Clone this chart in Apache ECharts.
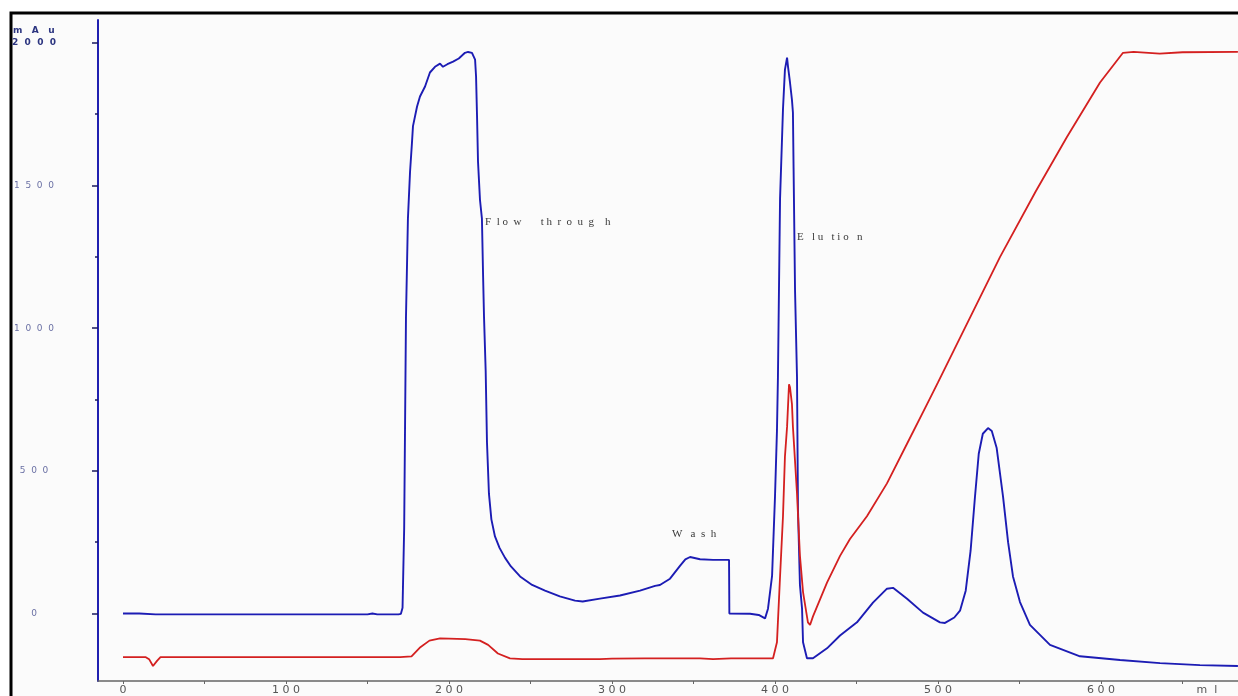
<!DOCTYPE html>
<html>
<head>
<meta charset="utf-8">
<script src="https://cdn.jsdelivr.net/npm/echarts@6/dist/echarts.min.js"></script>
<style>
html,body{margin:0;padding:0;background:#ffffff;}
#chart{width:1238px;height:696px;}
</style>
</head>
<body>
<div id="chart"></div>
<script>
// ---- data (volume in ml, absorbance in mAu) ----
const blueData = [
 [0,0],[10,0],[20,-3],[150,-3],[153,0],[156,-3],[169,-3],[170.5,-1],[171.5,20],[172.5,300],
 [173.6,1036],[174.8,1384],[176.1,1548],[177.3,1652],[177.9,1708],[180.4,1777],[182.2,1812],
 [185.3,1847],[188.3,1896],[191.4,1916],[194.5,1927],[195.7,1934],[196.3,1916],[199,1925],
 [202.5,1934],[206,1945],[209.8,1965],[211.7,1968],[214.1,1965],[216.0,1941],[216.6,1882],
 [217.2,1743],[217.8,1583],[219,1450],[220.2,1384],[220.9,1186],[221.5,1036],[222.5,850],
 [223.3,600],[224.5,420],[226,330],[228.2,270],[231,230],[234.4,195],[238,165],[243.6,130],
 [251,100],[258.9,80],[268,60],[277.3,45],[282,42],[292.6,52],[304.9,63],[317.2,80],
 [326.4,97],[329.4,100],[335.6,122],[341.7,167],[345,190],[347.9,198],[354.0,190],[362,188],
 [371.8,188],[372.0,0],[384.7,-1],[390,-5],[393.9,-17],[395.7,17],[398.2,132],[400,410],
 [401.2,640],[401.8,828],[403.1,1454],[404.9,1767],[406.1,1906],[407.4,1948],[408,1916],
 [409.2,1861],[410.4,1800],[411,1756],[411.4,1560],[412.3,1130],[413.5,828],[414.1,365],
 [415.3,100],[416.6,17],[417.2,-101],[419.6,-157],[423.3,-157],[431.9,-122],[439.9,-77],
 [450.3,-31],[460.1,38],[468.7,87],[472.4,90],[481,52],[490.8,3],[501.2,-31],[504.3,-33],
 [510,-14],[513.5,10],[517,80],[520,220],[522.7,410],[525,560],[527.5,630],[530.7,650],
 [533,640],[536,580],[539.9,410],[543,250],[546,130],[550.3,40],[556.4,-40],[568.7,-110],
 [587.1,-150],[611.7,-163],[636.2,-174],[660.7,-181],[684,-184]
];
const redData = [
 [0,-153],[14,-153],[16,-160],[18.4,-184],[21,-165],[23,-153],[170,-153],[177,-150],
 [182,-120],[188,-95],[194.5,-87],[200,-88],[210,-90],[219,-95],[224,-110],[230,-140],
 [237.4,-157],[245,-160],[260,-160],[292.6,-160],[300,-158],[320,-157],[354,-157],
 [362,-160],[373,-157],[398.8,-157],[401.2,-101],[403.1,130],[404.9,341],[406.1,550],
 [407.4,654],[408.6,803],[409.2,793],[410.4,734],[411,654],[413.5,421],[415.3,202],
 [417.2,75],[420.2,-31],[421.5,-40],[423.3,-10],[431.9,108],[439.9,202],[446,261],
 [456.4,341],[468.7,456],[481,595],[493.3,734],[500,810],[538,1249],[560,1480],
 [579.1,1670],[599.4,1861],[613.5,1965],[620,1968],[636,1962],[650,1967],[684,1968]
];
const annotations = [
 [222.1,1370,'F  l o  w       t h  r  o  u  g    h'],
 [413.5,1318,'E   l u   t i o   n'],
 [336.8,278,'W   a  s  h']
];
const xTickValues = [0,100,200,300,400,500,600,665];
const xTickLabels = ['0','1 0 0','2 0 0','3 0 0','4 0 0','5 0 0','6 0 0','m  l'];
const xMinorTicks = [0,50,100,150,200,250,300,350,400,450,500,550,600,650];
const yTickValues = [0,500,1000,1500,2000];
const yTickLabels = ['0','5  0  0','1  0  0  0','1  5  0  0','2  0  0  0'];
const yMinorTicks = [250,750,1250,1750];
const yUnit = 'm   A   u';

const chart = echarts.init(document.getElementById('chart'));
const X_MIN = -15.34, X_MAX = 684.05, Y_MIN = -236.5, Y_MAX = 2080;

chart.setOption({
  backgroundColor: '#ffffff',
  animation: false,
  graphic: [
    {type:'rect', shape:{x:11,y:13,width:1240,height:700}, style:{fill:'#fbfbfb',stroke:'#000',lineWidth:3}, z:-10},
    {type:'text', left:13, top:26, style:{text:yUnit, fill:'#2c3580', font:'bold 9px "DejaVu Sans"'}}
  ],
  grid: {left:98, right:0, top:20, bottom:10},
  xAxis: [{
    type:'value', min:X_MIN, max:X_MAX,
    axisLine:{show:true, onZero:false, lineStyle:{color:'#666', width:1.5}},
    axisTick:{show:true, customValues:xMinorTicks, length:3, lineStyle:{color:'#666'}},
    axisLabel:{show:true, customValues:xTickValues, margin:4, color:'#555', fontSize:11, fontFamily:'DejaVu Sans',
      formatter:(v)=>{const i=xTickValues.indexOf(v); return i>=0?xTickLabels[i]:'';}},
    splitLine:{show:false}
  }],
  yAxis: [{
    type:'value', min:Y_MIN, max:Y_MAX,
    axisLine:{show:true, onZero:false, lineStyle:{color:'#2020b0', width:2}},
    axisTick:{show:true, customValues:yTickValues, length:6, lineStyle:{color:'#1a1a60', width:1.5}},
    axisLabel:{show:true, customValues:yTickValues, margin:64, align:'center', color:'#6a70a4', fontSize:9, fontFamily:'DejaVu Sans',
      formatter:(v)=>{const i=yTickValues.indexOf(v); if(i<0) return ''; return v===2000?'{top|'+yTickLabels[i]+'}':yTickLabels[i];},
      rich:{top:{color:'#2c3580', fontWeight:'bold', fontSize:9, fontFamily:'DejaVu Sans'}}},
    splitLine:{show:false}
  },{
    type:'value', min:Y_MIN, max:Y_MAX, position:'left',
    axisLine:{show:false, onZero:false},
    axisTick:{show:true, customValues:yMinorTicks, length:3, lineStyle:{color:'#1a1a60', width:1.5}},
    axisLabel:{show:false}, splitLine:{show:false}
  }],
  series: [
    {type:'line', data:redData, showSymbol:false, symbol:'none', lineStyle:{color:'#d42020', width:1.8}, z:3},
    {type:'line', data:blueData, showSymbol:false, symbol:'none', lineStyle:{color:'#1c1cb4', width:1.9}, z:2},
    {type:'scatter', data:annotations, symbolSize:0, silent:true,
      label:{show:true, position:'right', distance:0, color:'#000', fontSize:11, fontFamily:'"Liberation Serif"',
        formatter:(p)=>p.data[2]}}
  ]
});
</script>
</body>
</html>
